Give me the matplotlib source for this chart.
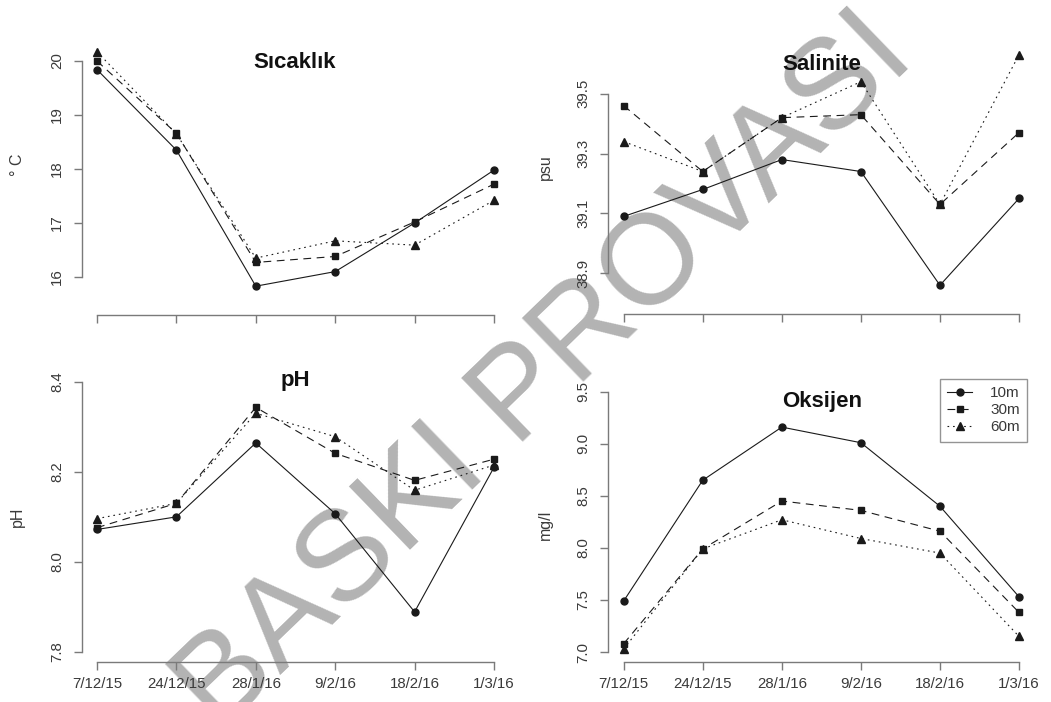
import numpy as np
import matplotlib
matplotlib.use("Agg")
import matplotlib.pyplot as plt

plt.rcParams["font.family"] = ["Liberation Sans", "DejaVu Sans"]

# sampling dates and depths
dates = ["7/12/15", "24/12/15", "28/1/16", "9/2/16", "18/2/16", "1/3/16"]
depths = ["10m", "30m", "60m"]

# temperature (deg C)
temp_10 = [19.84, 18.35, 15.83, 16.10, 17.00, 17.98]
temp_30 = [20.00, 18.66, 16.27, 16.38, 17.02, 17.72]
temp_60 = [20.17, 18.65, 16.35, 16.67, 16.59, 17.42]

# salinity (psu)
sal_10 = [39.09, 39.18, 39.28, 39.24, 38.86, 39.15]
sal_30 = [39.46, 39.24, 39.42, 39.43, 39.13, 39.37]
sal_60 = [39.34, 39.24, 39.42, 39.54, 39.13, 39.63]

# pH
ph_10 = [8.072, 8.100, 8.264, 8.107, 7.889, 8.210]
ph_30 = [8.076, 8.130, 8.343, 8.241, 8.181, 8.228]
ph_60 = [8.096, 8.130, 8.330, 8.278, 8.159, 8.215]

# dissolved oxygen (mg/l)
oks_10 = [7.49, 8.65, 9.16, 9.01, 8.40, 7.53]
oks_30 = [7.08, 7.99, 8.45, 8.36, 8.16, 7.38]
oks_60 = [7.03, 7.99, 8.27, 8.09, 7.95, 7.15]

W, H = 1051, 702
fig = plt.figure(figsize=(W / 100, H / 100), dpi=100)

x = np.arange(len(dates))
line_col = "#1a1a1a"
axis_col = "#7a7a7a"
text_col = "#3a3a3a"
styles = [dict(ls="-", marker="o", ms=5),
          dict(ls=(0, (7, 5)), marker="s", ms=4.5),
          dict(ls=(0, (1.5, 3.5)), marker="^", ms=5.5)]


def panel(X0, X5, left_px, ya, pa, yb, pb, top_px, bot_px, yticks, yfmt,
          xoff_px, show_xlabels):
    sx = (X5 - X0) / 5.0
    right_px = X5 + 0.2 * sx
    sy = (pa - pb) / (yb - ya)
    ax = fig.add_axes([left_px / W, 1 - bot_px / H,
                       (right_px - left_px) / W, (bot_px - top_px) / H])
    ax.patch.set_alpha(0)
    ax.set_xlim((left_px - X0) / sx, 5.2)
    ax.set_ylim(ya - (bot_px - pa) / sy, ya + (pa - top_px) / sy)
    for s in ["top", "right"]:
        ax.spines[s].set_visible(False)
    ax.spines["left"].set_bounds(yticks[0], yticks[-1])
    ax.spines["bottom"].set_bounds(0, 5)
    ax.spines["bottom"].set_position(("outward", xoff_px * 0.72))
    for s in ["left", "bottom"]:
        ax.spines[s].set_color(axis_col)
        ax.spines[s].set_linewidth(1.0)
    ax.set_yticks(yticks)
    ax.set_yticklabels([yfmt.format(v) for v in yticks])
    ax.set_xticks(x)
    ax.set_xticklabels(dates if show_xlabels else [])
    ax.tick_params(axis="both", colors=axis_col, labelcolor=text_col,
                   length=6, width=1.0, labelsize=10.8)
    ax.tick_params(axis="x", pad=5)
    plt.setp(ax.get_yticklabels(), rotation=90, va="center", ha="center")
    ax.tick_params(axis="y", pad=12)
    return ax


def draw(ax, series):
    handles = []
    for vals, st, lab in zip(series, styles, depths):
        h, = ax.plot(x, vals, color=line_col, lw=0.8, mfc=line_col,
                     mec=line_col, label=lab, **st)
        handles.append(h)
    return handles


ax1 = panel(97, 494, 82, 16, 277, 20, 61, 42, 295, [16, 17, 18, 19, 20],
            "{:.0f}", 20, False)
draw(ax1, [temp_10, temp_30, temp_60])

ax2 = panel(623.7, 1019, 608, 38.9, 273.3, 39.5, 93.7, 45, 295,
            [38.9, 39.1, 39.3, 39.5], "{:.1f}", 19, False)
draw(ax2, [sal_10, sal_30, sal_60])

ax3 = panel(97, 494, 82, 7.8, 652, 8.4, 381.7, 371, 662,
            [7.8, 8.0, 8.2, 8.4], "{:.1f}", 0, True)
draw(ax3, [ph_10, ph_30, ph_60])

ax4 = panel(623.7, 1019, 608, 7.0, 652, 9.5, 391.7, 380, 662,
            [7.0, 7.5, 8.0, 8.5, 9.0, 9.5], "{:.1f}", 0, True)
hs = draw(ax4, [oks_10, oks_30, oks_60])

# titles
for tx, ty, t in [(295, 62, "Sıcaklık"), (822, 65, "Salinite"),
                  (295, 381, "pH"), (822, 401, "Oksijen")]:
    fig.text(tx / W, 1 - ty / H, t, fontsize=16, fontweight="bold",
             ha="center", va="center", color="#111111")

# y labels
for tx, ty, t in [(17, 165, "° C"), (545, 167, "psu"),
                  (17, 517, "pH"), (545, 525, "mg/l")]:
    fig.text(tx / W, 1 - ty / H, t, fontsize=11.5, rotation=90,
             ha="center", va="center", color=text_col)

leg = ax4.legend(handles=hs, loc="upper right",
                 bbox_to_anchor=(1035 / W, 1 - 371 / H),
                 bbox_transform=fig.transFigure, fontsize=11,
                 handlelength=1.6, handletextpad=1.2, labelspacing=0.2,
                 borderpad=0.5, fancybox=False, frameon=True,
                 markerfirst=True)
leg.get_frame().set_edgecolor(axis_col)
leg.get_frame().set_linewidth(1.0)
for t in leg.get_texts():
    t.set_color(text_col)

# watermark
fig.text(568 / W, 1 - 397 / H, "BASKI PROVASI", fontsize=92, rotation=44,
         rotation_mode="anchor", ha="center", va="baseline",
         color="#b3b3b3", zorder=-5)

fig.savefig("out.png", dpi=100)
